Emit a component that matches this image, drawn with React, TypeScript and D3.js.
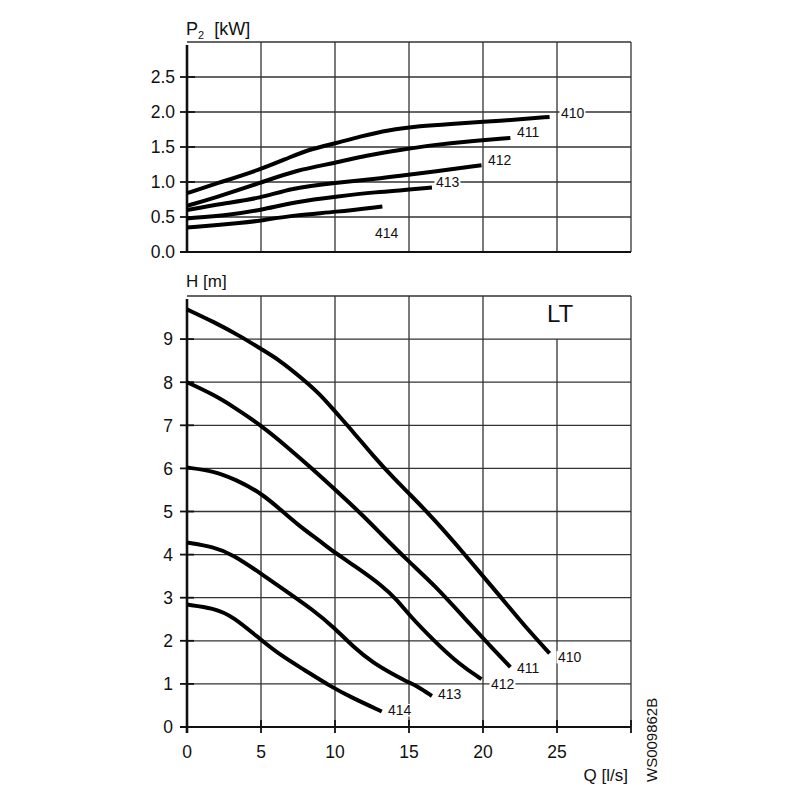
import * as d3 from 'd3';

// pump curves, LT range — Q in l/s
const seriesNames = ['410', '411', '412', '413', '414'];

const h410: [number, number][] = [[0, 9.69], [1.8, 9.4], [3.6, 9.07], [5, 8.77], [6.3, 8.5], [7.7, 8.11], [9, 7.72], [10, 7.32], [11.2, 6.86], [12.6, 6.28], [14, 5.76], [15, 5.42], [16.7, 4.82], [18.9, 3.95], [20, 3.5], [21.6, 2.85], [23, 2.27], [24.5, 1.71]];
const h411: [number, number][] = [[0, 8.0], [1.8, 7.71], [3.1, 7.44], [5, 7.0], [6.7, 6.52], [8.5, 5.98], [10, 5.51], [11.7, 4.97], [13.05, 4.5], [15, 3.83], [16.7, 3.3], [18.9, 2.47], [20.3, 1.95], [21.85, 1.39]];
const h412: [number, number][] = [[0, 6.02], [1.8, 5.94], [3.3, 5.74], [5, 5.43], [6.3, 5.05], [7.6, 4.66], [9, 4.31], [10, 4.04], [11.7, 3.65], [13.1, 3.3], [14.2, 2.95], [15, 2.6], [16.6, 2.03], [18.4, 1.45], [19.9, 1.11]];
const h413: [number, number][] = [[0, 4.28], [1.8, 4.18], [3.1, 4.0], [5, 3.56], [6.7, 3.15], [8.5, 2.72], [10, 2.29], [11.2, 1.87], [12.6, 1.48], [14, 1.21], [15, 1.03], [15.6, 0.94], [16.55, 0.72]];
const h414: [number, number][] = [[0, 2.84], [1.8, 2.76], [3.1, 2.57], [5, 2.02], [6.3, 1.67], [7.9, 1.33], [9.7, 0.94], [11.2, 0.67], [13.16, 0.36]];

const p410: [number, number][] = [[0, 0.84], [2, 0.98], [5, 1.18], [7, 1.36], [8.5, 1.48], [10, 1.55], [11.9, 1.66], [13.5, 1.74], [15.8, 1.8], [17.8, 1.83], [20, 1.86], [22.3, 1.89], [24.5, 1.93]];
const p411: [number, number][] = [[0, 0.66], [1.8, 0.77], [5, 0.99], [7.4, 1.17], [10, 1.27], [12.1, 1.38], [14.4, 1.46], [16.7, 1.53], [18.9, 1.58], [21.85, 1.63]];
const p412: [number, number][] = [[0, 0.6], [2.4, 0.69], [5, 0.77], [7, 0.91], [10, 0.99], [13, 1.05], [14.4, 1.09], [16.7, 1.15], [19.9, 1.24]];
const p413: [number, number][] = [[0, 0.48], [2.9, 0.53], [5, 0.6], [7.4, 0.72], [10, 0.79], [13, 0.86], [14.4, 0.88], [16.55, 0.92]];
const p414: [number, number][] = [[0, 0.35], [4, 0.42], [5, 0.45], [7.4, 0.53], [10, 0.57], [13.2, 0.65]];

// label anchors (text start, baseline) in data units
const hLabels: [number, number][] = [[25.07, 1.51], [22.3, 1.25], [20.54, 0.88], [16.96, 0.65], [13.58, 0.28]];
const pLabels: [number, number][] = [[25.27, 1.914], [22.3, 1.643], [20.34, 1.243], [16.82, 0.929], [12.7, 0.2]];

const qTicks = [0, 5, 10, 15, 20, 25, 30];
const hTicks = [0, 1, 2, 3, 4, 5, 6, 7, 8, 9, 10];
const pTicks = [0, 0.5, 1, 1.5, 2, 2.5, 3];

const FONT = 'Liberation Sans, Arial, sans-serif';
const GRID = '#333';
const TICK_FS = 17.5;

export default function App() {
  const hData = [h410, h411, h412, h413, h414];
  const pData = [p410, p411, p412, p413, p414];

  const x = d3.scaleLinear().domain([0, 30]).range([187, 631]);
  const yP = d3.scaleLinear().domain([0, 3]).range([252, 42]);
  const yH = d3.scaleLinear().domain([0, 10]).range([727, 296]);

  // basis smoothing — the points are hand-read, this irons out the jitter
  const lineP = d3.line<[number, number]>().x((d) => x(d[0])).y((d) => yP(d[1])).curve(d3.curveBasis);
  const lineH = d3.line<[number, number]>().x((d) => x(d[0])).y((d) => yH(d[1])).curve(d3.curveBasis);

  const labelBox = (lx: number, ly: number, key: string) => (
    <g key={key}>
      <rect x={lx - 1.5} y={ly - 11} width={26} height={12.5} fill="#fff" />
      <text x={lx} y={ly} fontSize={14} fontFamily={FONT} fill="#111">{key.slice(1)}</text>
    </g>
  );

  return (
    <svg width={800} height={800} viewBox="0 0 800 800" style={{ position: 'absolute', left: 0, top: 0, background: '#fff' }}>
      <rect width={800} height={800} fill="#fff" />

      {/* ---------- P2 panel ---------- */}
      <g>
        {pTicks.slice(1).map((t) => (
          <line key={'pg' + t} x1={x(0)} x2={x(30)} y1={yP(t)} y2={yP(t)} stroke={GRID} strokeWidth={1.3} />
        ))}
        {qTicks.slice(1).map((t) => (
          <line key={'pv' + t} x1={x(t)} x2={x(t)} y1={yP(0)} y2={yP(3)} stroke={GRID} strokeWidth={1.3} />
        ))}
        <line x1={x(0) - 7} x2={x(30)} y1={yP(0)} y2={yP(0)} stroke="#111" strokeWidth={1.8} />
        <line x1={x(0)} x2={x(0)} y1={yP(0) + 1} y2={yP(3) + 3} stroke="#111" strokeWidth={2.6} />
        {pTicks.slice(0, 6).map((t) => (
          <g key={'pt' + t}>
            <line x1={x(0) - 7} x2={x(0) + 8} y1={yP(t)} y2={yP(t)} stroke="#111" strokeWidth={1.8} />
            <text x={x(0) - 12} y={yP(t)} dy="0.36em" textAnchor="end" fontSize={TICK_FS} fontFamily={FONT} fill="#111">
              {t.toFixed(1)}
            </text>
          </g>
        ))}
        <text x={186} y={35} fontSize={18} fontFamily={FONT} fill="#111">
          P
          <tspan fontSize={11} dy={4}>2</tspan>
          <tspan dy={-4} dx={10}>[kW]</tspan>
        </text>
        {pData.map((d, i) => (
          <path key={'pc' + i} d={lineP(d) ?? ''} fill="none" stroke="#000" strokeWidth={4} />
        ))}
        {pLabels.map((l, i) => labelBox(x(l[0]), yP(l[1]), 'p' + seriesNames[i]))}
      </g>

      {/* ---------- H panel ---------- */}
      <g>
        {hTicks.slice(1).map((t) => (
          <line key={'hg' + t} x1={x(0)} x2={x(30)} y1={yH(t)} y2={yH(t)} stroke={GRID} strokeWidth={1.3} />
        ))}
        {qTicks.slice(1).map((t) => (
          <line key={'hv' + t} x1={x(t)} x2={x(t)} y1={yH(0)} y2={t === 25 ? yH(9) : yH(10)} stroke={GRID} strokeWidth={1.3} />
        ))}
        <text x={560} y={322} textAnchor="middle" fontSize={24} fontFamily={FONT} fill="#111">LT</text>

        <line x1={x(0) - 7} x2={x(30)} y1={yH(0)} y2={yH(0)} stroke="#111" strokeWidth={2} />
        <line x1={x(0)} x2={x(0)} y1={yH(0) + 6} y2={yH(10) + 3} stroke="#111" strokeWidth={2.6} />
        {hTicks.slice(0, 10).map((t) => (
          <g key={'ht' + t}>
            <line x1={x(0) - 7} x2={x(0) + 7} y1={yH(t)} y2={yH(t)} stroke="#111" strokeWidth={1.8} />
            <text x={x(0) - 14} y={yH(t)} dy="0.36em" textAnchor="end" fontSize={TICK_FS} fontFamily={FONT} fill="#111">
              {t}
            </text>
          </g>
        ))}
        {qTicks.map((t) => (
          <g key={'qt' + t}>
            <line x1={x(t)} x2={x(t)} y1={yH(0) - 7} y2={yH(0) + 6} stroke="#111" strokeWidth={1.8} />
            {t < 30 && (
              <text x={x(t)} y={758} textAnchor="middle" fontSize={TICK_FS} fontFamily={FONT} fill="#111">
                {t}
              </text>
            )}
          </g>
        ))}
        <text x={186} y={287} fontSize={17} fontFamily={FONT} fill="#111">H [m]</text>
        <text x={628} y={781} textAnchor="end" fontSize={17} fontFamily={FONT} fill="#111">Q [l/s]</text>
        <text transform="translate(657,782) rotate(-90)" fontSize={15} fontFamily={FONT} fill="#111">WS009862B</text>

        {hData.map((d, i) => (
          <path key={'hc' + i} d={lineH(d) ?? ''} fill="none" stroke="#000" strokeWidth={4} />
        ))}
        {hLabels.map((l, i) => labelBox(x(l[0]), yH(l[1]), 'h' + seriesNames[i]))}
      </g>
    </svg>
  );
}
